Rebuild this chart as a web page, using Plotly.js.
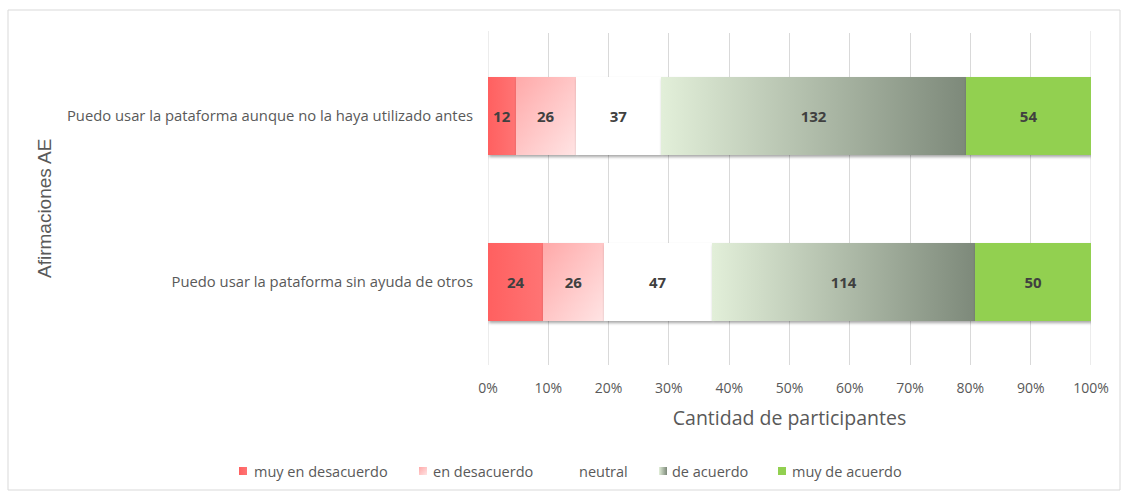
<!DOCTYPE html>
<html>
<head>
<meta charset="utf-8">
<script src="https://cdn.plot.ly/plotly-3.0.1.min.js"></script>
<style>
html,body{margin:0;padding:0;background:#fff;overflow:hidden;}
#chart{width:1126px;height:492px;}
</style>
</head>
<body>
<div id="chart"></div>
<script>
// Categories (first = bottom bar)
var categories = [
  'Puedo usar la pataforma sin ayuda de otros',
  'Puedo usar la pataforma aunque no la haya utilizado antes'
];
var seriesNames = ['muy en desacuerdo', 'en desacuerdo', 'neutral', 'de acuerdo', 'muy de acuerdo'];
var muyEnDesacuerdo = [24, 12];
var enDesacuerdo   = [26, 26];
var neutral        = [47, 37];
var deAcuerdo      = [114, 132];
var muyDeAcuerdo   = [50, 54];
var xTickVals   = [0, 10, 20, 30, 40, 50, 60, 70, 80, 90, 100];
var xTickLabels = ['0%', '10%', '20%', '30%', '40%', '50%', '60%', '70%', '80%', '90%', '100%'];

var seriesValues = [muyEnDesacuerdo, enDesacuerdo, neutral, deAcuerdo, muyDeAcuerdo];
var seriesColors = ['#FF6B6B', '#FFC4C4', '#FFFFFF', '#B3BFAA', '#92D050'];
var gradFills    = ['url(#gMuyDes)', 'url(#gDes)', null, 'url(#gAc)', null];

// plot area in pixels (for placing legend / frame elements)
var PL = 488, PR = 1091, PT = 33, PB = 365;
function px(x){ return (x - PL) / (PR - PL); }
function py(y){ return (PB - y) / (PB - PT); }

var data = seriesNames.map(function(name, i){
  return {
    type: 'bar',
    orientation: 'h',
    name: name,
    y: categories,
    x: seriesValues[i],
    text: seriesValues[i].map(String),
    texttemplate: '%{text}',
    textposition: 'inside',
    insidetextanchor: 'middle',
    textangle: 0,
    constraintext: 'none',
    textfont: {family: 'Open Sans, sans-serif', size: 15, color: '#404040', weight: 'bold'},
    marker: {color: seriesColors[i], line: {width: 0}},
    hoverinfo: 'skip',
    showlegend: false
  };
});

// manual legend (Excel-like spacing)
var legendSymbolX = [243, 423, 567, 663, 782];
var legendTextX   = [252, 431, 577, 670, 790];
var legendY = 471;

var shapes = [{
  type: 'rect', xref: 'paper', yref: 'paper',
  x0: px(8), x1: px(1120), y0: py(490), y1: py(10),
  line: {color: '#D9D9D9', width: 1},
  fillcolor: 'rgba(0,0,0,0)',
  layer: 'below'
}, {
  type: 'line', xref: 'x', yref: 'paper', x0: 0, x1: 0, y0: 0, y1: py(31),
  line: {color: '#D9D9D9', width: 1}, layer: 'below'
}, {
  type: 'line', xref: 'x', yref: 'paper', x0: 100, x1: 100, y0: 0, y1: py(31),
  line: {color: '#D9D9D9', width: 1}, layer: 'below'
}];
var legendShapeStart = shapes.length;
var annotations = [{
  text: 'Afirmaciones AE',
  xref: 'paper', yref: 'paper',
  x: px(45), y: py(209),
  xanchor: 'center', yanchor: 'middle',
  textangle: -90,
  showarrow: false,
  font: {family: 'Liberation Sans, Arial, sans-serif', size: 19, color: '#595959'}
}];
seriesNames.forEach(function(name, i){
  shapes.push({
    type: 'rect', xref: 'paper', yref: 'paper',
    x0: px(legendSymbolX[i] - 4), x1: px(legendSymbolX[i] + 4),
    y0: py(legendY + 4), y1: py(legendY - 4),
    line: {width: 0},
    fillcolor: seriesColors[i],
    layer: 'above'
  });
  annotations.push({
    text: name,
    xref: 'paper', yref: 'paper',
    x: px(legendTextX[i]), y: py(legendY),
    xanchor: 'left', yanchor: 'middle',
    showarrow: false,
    font: {family: 'Open Sans, sans-serif', size: 14.5, color: '#595959'}
  });
});

var layout = {
  width: 1126,
  height: 492,
  barmode: 'stack',
  barnorm: 'percent',
  bargap: 0.53,
  paper_bgcolor: '#ffffff',
  plot_bgcolor: '#ffffff',
  margin: {l: PL, r: 1126 - PR, t: PT, b: 492 - PB},
  font: {family: 'Open Sans, sans-serif', color: '#595959'},
  showlegend: false,
  xaxis: {
    range: [0, 100],
    tickmode: 'array',
    tickvals: xTickVals,
    ticktext: xTickLabels,
    showgrid: true,
    gridcolor: '#D9D9D9',
    gridwidth: 1,
    zeroline: false,
    showline: false,
    ticks: '',
    ticklabelstandoff: 13,
    tickfont: {size: 14, color: '#595959'},
    title: {text: 'Cantidad de participantes', font: {size: 19.5, color: '#595959'}, standoff: 15},
    automargin: false,
    fixedrange: true
  },
  yaxis: {
    type: 'category',
    range: [-0.5, 1.5],
    showgrid: false,
    zeroline: false,
    showline: false,
    ticks: '',
    ticklabelstandoff: 14,
    tickfont: {size: 14.8, color: '#595959'},
    automargin: false,
    fixedrange: true
  },
  shapes: shapes,
  annotations: annotations
};

var gd = document.getElementById('chart');
Plotly.newPlot(gd, data, layout, {staticPlot: true, displayModeBar: false}).then(function(){
  var ns = 'http://www.w3.org/2000/svg';
  var svg = gd.querySelector('svg.main-svg');
  var defs = svg.querySelector('defs');
  if (!defs) { defs = document.createElementNS(ns, 'defs'); svg.insertBefore(defs, svg.firstChild); }
  function grad(id, x1, y1, x2, y2, stops){
    var g = document.createElementNS(ns, 'linearGradient');
    g.setAttribute('id', id);
    g.setAttribute('x1', x1); g.setAttribute('y1', y1);
    g.setAttribute('x2', x2); g.setAttribute('y2', y2);
    stops.forEach(function(s){
      var st = document.createElementNS(ns, 'stop');
      st.setAttribute('offset', s[0]);
      st.setAttribute('stop-color', s[1]);
      g.appendChild(st);
    });
    defs.appendChild(g);
  }
  grad('gMuyDes', '0', '0', '1', '0', [['0', '#FF6060'], ['1', '#FF7474']]);
  grad('gDes', '0', '0', '1', '1', [['0', '#FFA9A9'], ['1', '#FFE4E4']]);
  grad('gAc', '0', '0', '1', '0', [['0', '#E2EFD9'], ['1', '#7D897A']]);

  var traces = gd.querySelectorAll('g.barlayer g.trace.bars');
  traces.forEach(function(t, i){
    t.querySelectorAll('g.point path').forEach(function(p){
      if (gradFills[i]) p.style.fill = gradFills[i];
      p.style.filter = 'drop-shadow(1px 2px 1.5px rgba(0,0,0,0.35))';
    });
  });
  seriesNames.forEach(function(n, i){
    if (!gradFills[i]) return;
    var p = gd.querySelector('.shapelayer path[data-index="' + (legendShapeStart + i) + '"]');
    if (p) p.style.fill = gradFills[i];
  });
});
</script>
</body>
</html>
